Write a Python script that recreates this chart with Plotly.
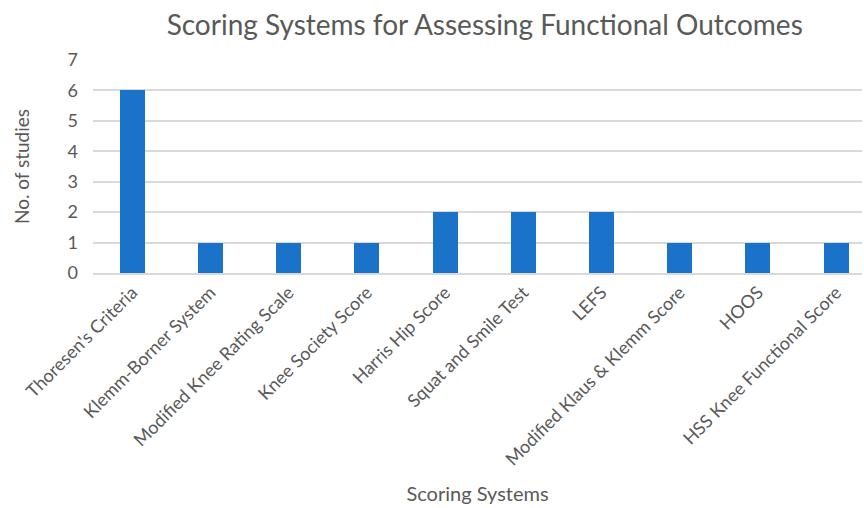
import plotly.graph_objects as go

categories = ["Thoresen's Criteria", "Klemm-Borner System", "Modified Knee Rating Scale",
              "Knee Society Score", "Harris Hip Score", "Squat and Smile Test", "LEFS",
              "Modified Klaus & Klemm Score", "HOOS", "HSS Knee Functional Score"]
studies = [6, 1, 1, 1, 2, 2, 2, 1, 1, 1]
y_ticks = [0, 1, 2, 3, 4, 5, 6, 7]

font_family = "Lato, Open Sans, sans-serif"
grey = "#595959"

fig = go.Figure(go.Bar(x=categories, y=studies, marker_color="#1a72c9",
                       marker_line_width=0, width=0.32))

fig.update_layout(
    width=864, height=508,
    paper_bgcolor="white", plot_bgcolor="white",
    margin=dict(l=93, r=2, t=60, b=235),
    title=dict(text="Scoring Systems for Assessing Functional Outcomes",
               x=0.561, xanchor="center", y=0.95, yanchor="middle",
               font=dict(family=font_family, size=28, color=grey)),
    font=dict(family=font_family, color=grey),
    showlegend=False,
    bargap=0,
)
fig.update_xaxes(
    range=[-0.5, 9.33], tickangle=-45, tickfont=dict(size=18, color=grey),
    showline=True, linecolor="#d9d9d9", linewidth=2, showgrid=False, ticks="",
    title=dict(text="Scoring Systems", font=dict(size=20, color=grey), standoff=18),
)
fig.update_yaxes(
    range=[0, 7], tickvals=y_ticks, tickfont=dict(size=18, color=grey),
    showgrid=True, gridcolor="#d9d9d9", gridwidth=1.5, zeroline=False,
    ticks="", ticklabelstandoff=14,
    title=dict(text="No. of studies", font=dict(size=19, color=grey), standoff=32),
)
fig.write_html("out.html")
